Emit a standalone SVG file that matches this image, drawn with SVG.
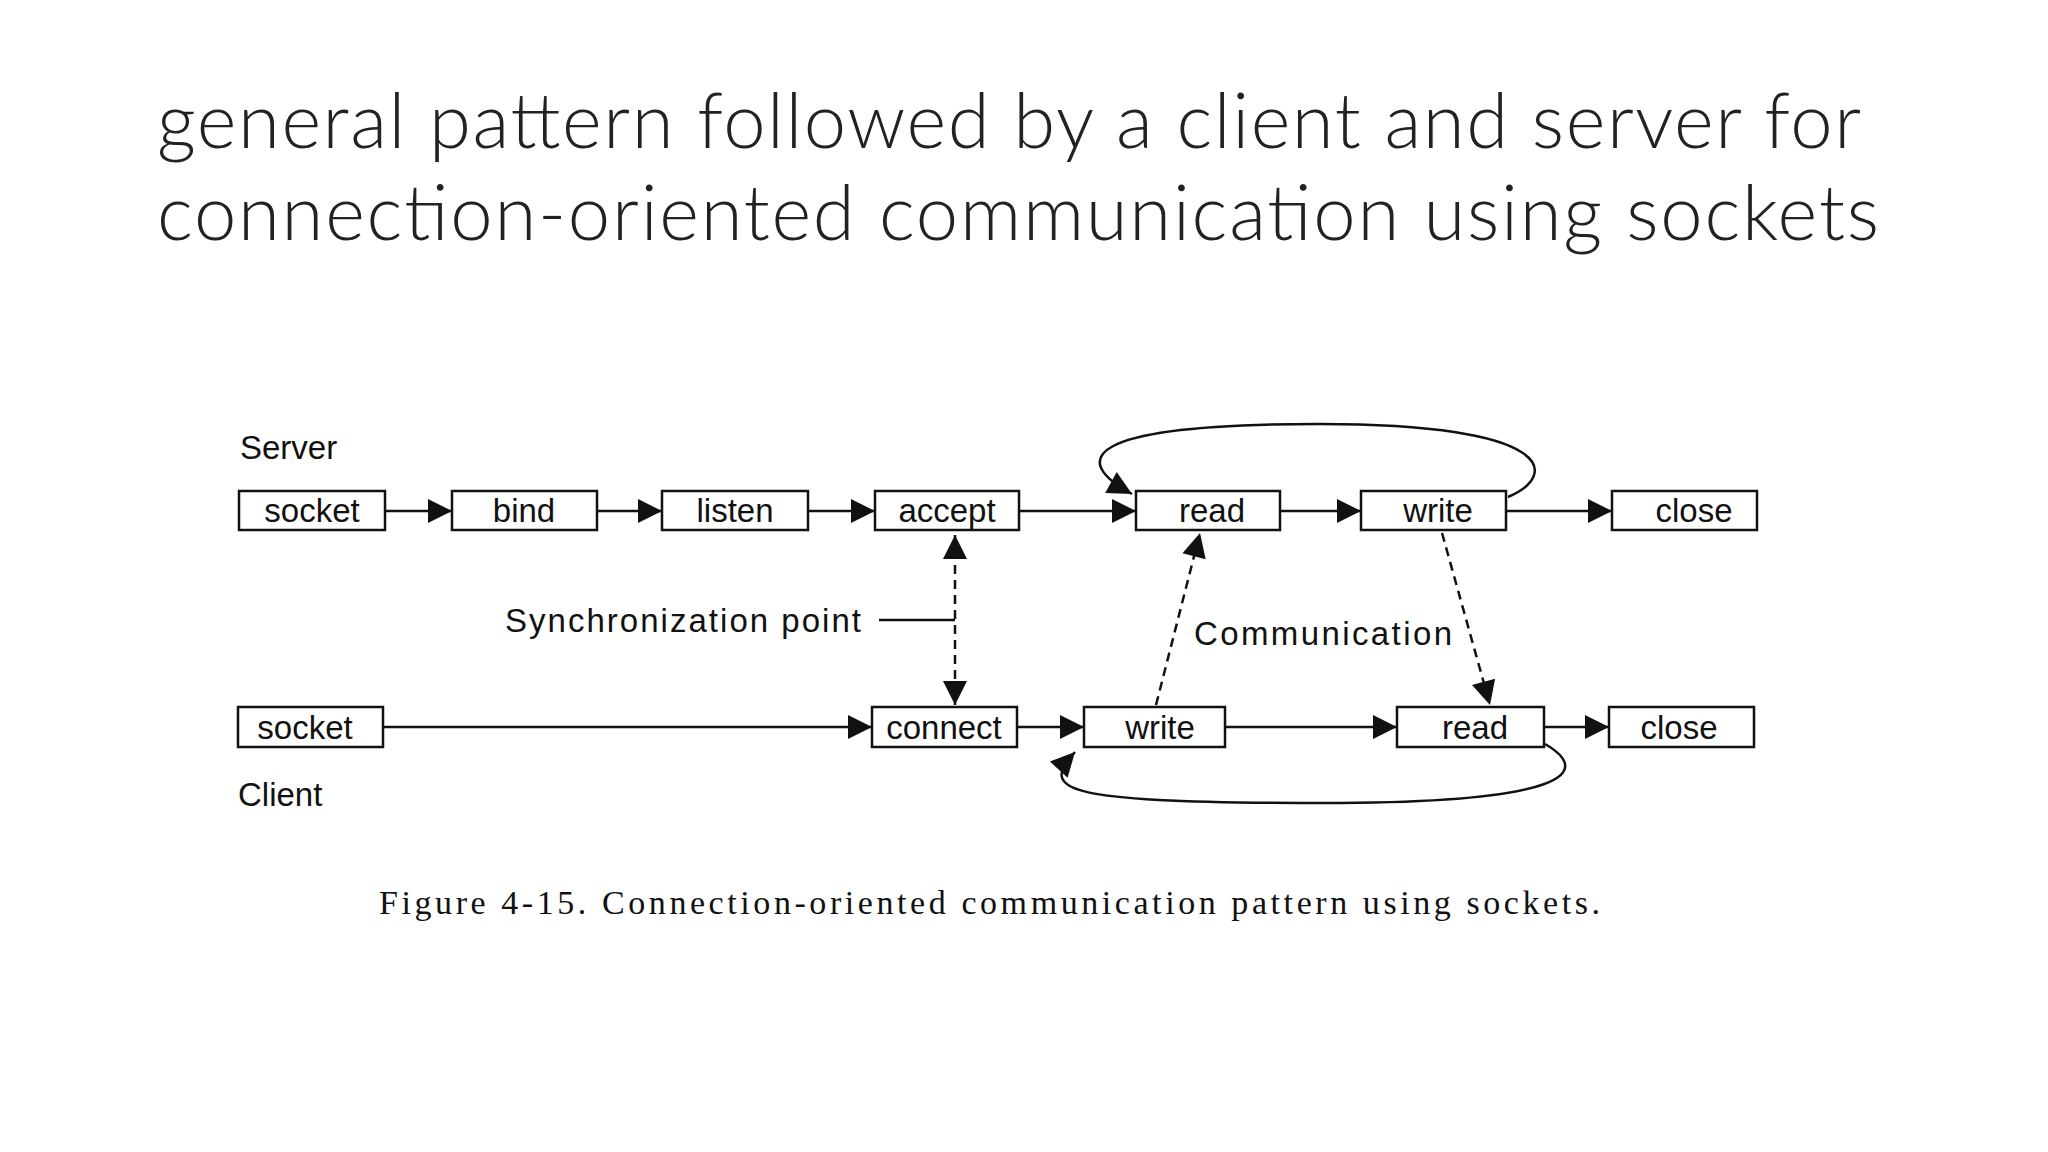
<svg xmlns="http://www.w3.org/2000/svg" width="2048" height="1152" viewBox="0 0 2048 1152">
<style>
.t{font-family:Lato,"Open Sans",sans-serif;font-weight:300;font-size:76px;fill:#222}
.b{fill:#fff;stroke:#111;stroke-width:2.5}
.l{font-family:"Liberation Sans",Arial,sans-serif;font-size:33px;fill:#111;text-anchor:middle}
.lab{font-family:"Liberation Sans",Arial,sans-serif;font-size:33px;fill:#111}
.c{stroke:#111;stroke-width:2.5;fill:none}
.d{stroke:#111;stroke-width:2.5;fill:none;stroke-dasharray:9 6}
</style>
<defs><marker id="a" viewBox="0 0 10 10" refX="10" refY="5" markerWidth="9" markerHeight="9" orient="auto-start-reverse" markerUnits="userSpaceOnUse"><path d="M0,0L10,5L0,10z" fill="#111"/></marker>
<marker id="A" viewBox="0 0 10 10" refX="10" refY="5" markerWidth="28" markerHeight="24" orient="auto-start-reverse" markerUnits="userSpaceOnUse"><path d="M0,0L10,5L0,10z" fill="#111"/></marker></defs>
<rect width="2048" height="1152" fill="#fff"/>
<text class="t" x="157" y="148" textLength="1704">general pattern followed by a client and server for</text>
<text class="t" x="157" y="240" textLength="1722">connection-oriented communication using sockets</text>
<text class="lab" x="240" y="459">Server</text>
<text class="lab" x="238" y="806">Client</text>
<g id="s_socket"><rect class="b" x="239" y="491" width="146" height="39"/><text class="l" x="312" y="522">socket</text></g>
<g id="s_bind"><rect class="b" x="452" y="491" width="145" height="39"/><text class="l" x="524" y="522">bind</text></g>
<g id="s_listen"><rect class="b" x="662" y="491" width="146" height="39"/><text class="l" x="735" y="522">listen</text></g>
<g id="s_accept"><rect class="b" x="875" y="491" width="144" height="39"/><text class="l" x="947" y="522">accept</text></g>
<g id="s_read"><rect class="b" x="1136" y="491" width="144" height="39"/><text class="l" x="1212" y="522">read</text></g>
<g id="s_write"><rect class="b" x="1361" y="491" width="145" height="39"/><text class="l" x="1438" y="522">write</text></g>
<g id="s_close"><rect class="b" x="1612" y="491" width="145" height="39"/><text class="l" x="1694" y="522">close</text></g>
<g id="c_socket"><rect class="b" x="238" y="707" width="145" height="40"/><text class="l" x="305" y="739">socket</text></g>
<g id="c_connect"><rect class="b" x="872" y="707" width="145" height="40"/><text class="l" x="944" y="739">connect</text></g>
<g id="c_write"><rect class="b" x="1084" y="707" width="141" height="40"/><text class="l" x="1160" y="739">write</text></g>
<g id="c_read"><rect class="b" x="1397" y="707" width="147" height="40"/><text class="l" x="1475" y="739">read</text></g>
<g id="c_close"><rect class="b" x="1609" y="707" width="145" height="40"/><text class="l" x="1679" y="739">close</text></g>
<text class="lab" x="505" y="632" textLength="356">Synchronization point</text>
<text class="lab" x="1194" y="645" textLength="258">Communication</text>
<g id="connectors">
<path class="c" marker-end="url(#A)" d="M385,511H452"/>
<path class="c" marker-end="url(#A)" d="M597,511H662"/>
<path class="c" marker-end="url(#A)" d="M808,511H875"/>
<path class="c" marker-end="url(#A)" d="M1019,511H1136"/>
<path class="c" marker-end="url(#A)" d="M1280,511H1361"/>
<path class="c" marker-end="url(#A)" d="M1506,511H1612"/>
<path class="c" marker-end="url(#A)" d="M383,727H872"/>
<path class="c" marker-end="url(#A)" d="M1017,727H1084"/>
<path class="c" marker-end="url(#A)" d="M1225,727H1397"/>
<path class="c" marker-end="url(#A)" d="M1544,727H1609"/>
<path class="c" d="M879,620H955"/>
<path class="d" marker-start="url(#A)" marker-end="url(#A)" d="M955,535V705"/>
<path class="d" marker-end="url(#A)" d="M1156,705L1200,533"/>
<path class="d" marker-end="url(#A)" d="M1442,533L1490,705"/>
<path class="c" marker-end="url(#A)" d="M1508,497C1560,475 1555,424 1320,424C1080,424 1070,460 1132,494"/>
<path class="c" marker-end="url(#A)" d="M1545,744C1590,770 1580,805 1300,803C1060,802 1040,790 1075,752"/>
</g>
<text x="379" y="914" font-family="Liberation Serif,serif" font-size="34" fill="#111" textLength="1221">Figure 4-15. Connection-oriented communication pattern using sockets.</text>
</svg>
